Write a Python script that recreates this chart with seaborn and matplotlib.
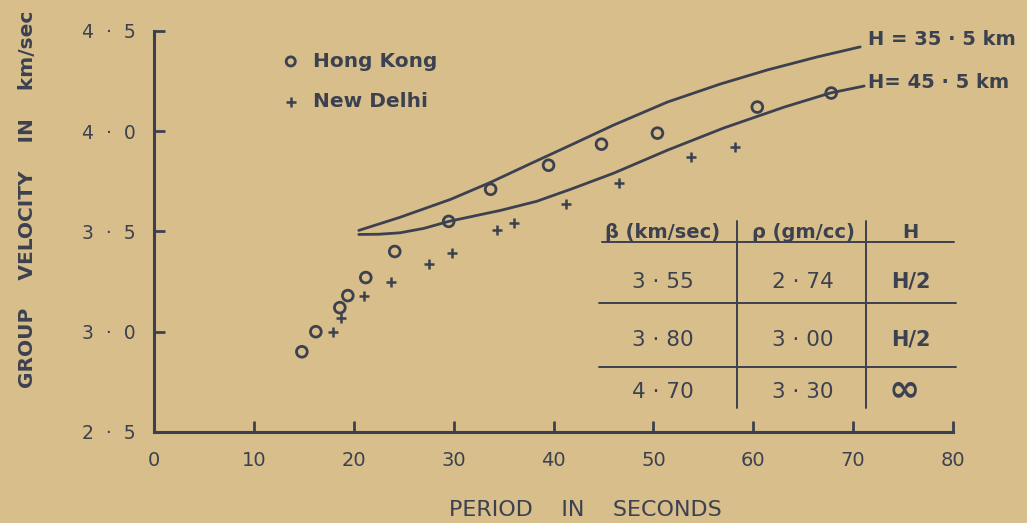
import matplotlib
matplotlib.use("Agg")
import matplotlib.pyplot as plt
import pandas as pd
import seaborn as sns

# Observed group velocities: period (s) and velocity (km/s)
hk_period = [14.8, 16.2, 18.6, 19.4, 21.2, 24.1, 29.5, 33.7, 39.5, 44.8, 50.4, 60.4, 67.8]
hk_velocity = [2.90, 3.00, 3.12, 3.18, 3.27, 3.40, 3.55, 3.71, 3.83, 3.935, 3.99, 4.12, 4.19]
nd_period = [17.9, 18.7, 21.0, 23.7, 27.5, 29.8, 34.3, 36.0, 41.2, 46.6, 53.8, 58.2]
nd_velocity = [3.00, 3.07, 3.18, 3.25, 3.34, 3.39, 3.505, 3.54, 3.635, 3.74, 3.87, 3.92]

# Theoretical dispersion curves for two crustal thicknesses
h355_period = [20.5, 24.6, 29.7, 33.7, 38.0, 41.7, 46.0, 51.4, 56.7, 61.4, 66.4, 70.7]
h355_velocity = [3.505, 3.57, 3.66, 3.745, 3.845, 3.93, 4.03, 4.145, 4.235, 4.305, 4.37, 4.42]
h455_period = [20.5, 22.5, 24.6, 27.0, 29.5, 34.7, 38.3, 41.7, 46.0, 51.4, 57.0, 63.1, 67.7, 71.1]
h455_velocity = [3.485, 3.486, 3.493, 3.515, 3.55, 3.605, 3.65, 3.71, 3.79, 3.905, 4.015, 4.12, 4.19, 4.225]
curve_labels = ["H = 35 · 5 km", "H= 45 · 5 km"]

# Layered model table
table_header = ["β (km/sec)", "ρ (gm/cc)", "H"]
beta_values = ["3 · 55", "3 · 80", "4 · 70"]
rho_values = ["2 · 74", "3 · 00", "3 · 30"]
thickness_values = ["H/2", "H/2", "∞"]

# Axis ticks
x_ticks = [0, 10, 20, 30, 40, 50, 60, 70, 80]
y_ticks = [2.5, 3.0, 3.5, 4.0, 4.5]
y_tick_labels = ["2  ·  5", "3  ·  0", "3  ·  5", "4  ·  0", "4  ·  5"]

paper = "#d8be8b"
ink = "#3c4150"

sns.set_theme(style="ticks")
plt.rcParams["font.family"] = ["DejaVu Sans"]
plt.rcParams["text.color"] = ink
plt.rcParams["axes.edgecolor"] = ink

fig = plt.figure(figsize=(10.27, 5.23), dpi=100, facecolor=paper)
ax = fig.add_axes([0.15, 0.174, 0.778, 0.767], facecolor=paper)

hk = pd.DataFrame({"period": hk_period, "velocity": hk_velocity})
nd = pd.DataFrame({"period": nd_period, "velocity": nd_velocity})
c1 = pd.DataFrame({"period": h355_period, "velocity": h355_velocity})
c2 = pd.DataFrame({"period": h455_period, "velocity": h455_velocity})

for curve in (c1, c2):
    sns.lineplot(data=curve, x="period", y="velocity", ax=ax, color=ink, lw=2.0,
                 sort=False, estimator=None, legend=False,
                 solid_joinstyle="round", solid_capstyle="round")

sns.scatterplot(data=hk, x="period", y="velocity", ax=ax, marker="o", s=60,
                facecolor="none", edgecolor=ink, linewidth=2.0, label="Hong Kong",
                zorder=3)
sns.scatterplot(data=nd, x="period", y="velocity", ax=ax, marker="+", s=60,
                color=ink, linewidth=1.8, label="New Delhi", zorder=3)

ax.set_xlim(0, 80)
ax.set_ylim(2.5, 4.5)
ax.set_xticks(x_ticks)
ax.set_xticklabels([str(t) for t in x_ticks])
ax.set_yticks(y_ticks)
ax.set_yticklabels(y_tick_labels)
ax.tick_params(direction="in", length=8, width=2.0, colors=ink, labelsize=14,
               labelcolor=ink)
ax.tick_params(axis="y", pad=13, labelsize=13.5)
ax.tick_params(axis="x", pad=14)
sns.despine(ax=ax)
for side in ("left", "bottom"):
    ax.spines[side].set_linewidth(2.2)
    ax.spines[side].set_color(ink)

ax.set_xlabel("PERIOD    IN    SECONDS", fontsize=16, color=ink, va="center")
ax.xaxis.set_label_coords(0.5395, -0.195)
ax.set_ylabel("GROUP    VELOCITY    IN    km/sec", fontsize=14.5, color=ink,
              fontweight="bold", va="center")
ax.yaxis.set_label_coords(-0.158, 0.58)

leg = ax.legend(loc="upper left", bbox_to_anchor=(0.161, 0.948), frameon=False,
                fontsize=14.5, handlelength=0.8, handletextpad=0.7,
                labelspacing=1.05, borderpad=0, borderaxespad=0, markerscale=0.85)
for t in leg.get_texts():
    t.set_color(ink)
    t.set_fontweight("bold")

# Curve annotations
ax.text(71.5, 4.455, curve_labels[0], fontsize=14, color=ink, va="center",
        ha="left", fontweight="bold", clip_on=False)
ax.text(71.5, 4.245, curve_labels[1], fontsize=14, color=ink, va="center",
        ha="left", fontweight="bold", clip_on=False)

# Model parameter table
col_x = [50.9, 65.0, 75.75]
header_y = 3.495
row_y = [3.25, 2.96, 2.70]
for x, txt in zip(col_x, table_header):
    ax.text(x, header_y, txt, fontsize=14, color=ink, ha="center", va="center",
            fontweight="bold")
for i, y in enumerate(row_y):
    ax.text(col_x[0], y, beta_values[i], fontsize=15.5, color=ink, ha="center", va="center")
    ax.text(col_x[1], y, rho_values[i], fontsize=15.5, color=ink, ha="center", va="center")
    if thickness_values[i] == "∞":
        ax.text(75.15, y + 0.01, thickness_values[i], fontsize=27, color=ink,
                ha="center", va="center", fontweight="bold")
    else:
        ax.text(col_x[2], y, thickness_values[i], fontsize=15, color=ink,
                ha="center", va="center", fontweight="bold")

ax.plot([44.9, 80.06], [3.445, 3.445], color=ink, lw=1.4, clip_on=False)
for y in (3.145, 2.825):
    ax.plot([44.6, 80.3], [y, y], color=ink, lw=1.4, clip_on=False)
for x in (58.4, 71.3):
    ax.plot([x, x], [3.55, 2.62], color=ink, lw=1.4)

fig.savefig("out.png", dpi=100, facecolor=paper)
